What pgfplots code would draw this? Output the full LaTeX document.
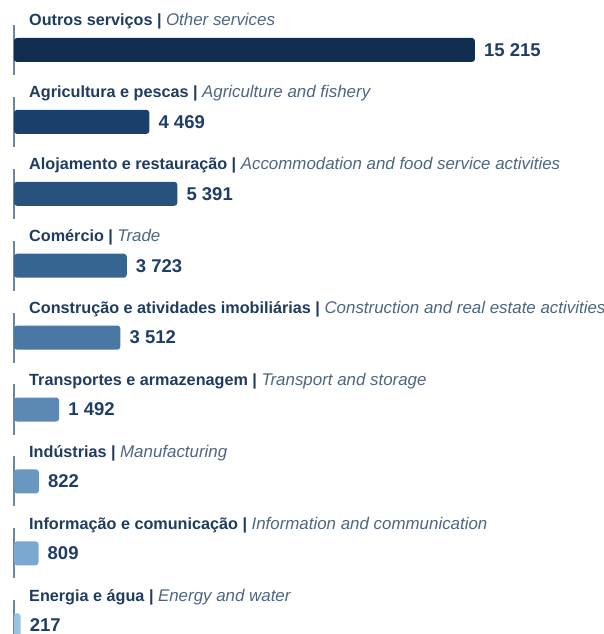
\documentclass[border=0pt]{standalone}
\usepackage{pgfplots}
\pgfplotsset{compat=1.18}
\usepackage{fontspec}
\setmainfont{Liberation Sans}
\definecolor{c0}{HTML}{112E51}
\definecolor{c1}{HTML}{1B3F6B}
\definecolor{c2}{HTML}{27527E}
\definecolor{c3}{HTML}{366592}
\definecolor{c4}{HTML}{4A78A4}
\definecolor{c5}{HTML}{5B89B4}
\definecolor{c6}{HTML}{6A97C0}
\definecolor{c7}{HTML}{7BA8D0}
\definecolor{c8}{HTML}{98C3E4}
\definecolor{labcol}{HTML}{1F3B5E}
\definecolor{itcol}{HTML}{4F6580}
\definecolor{valcol}{HTML}{1F3D66}
\definecolor{axcol}{HTML}{6F86A0}
\newcommand{\lab}[3]{\node[anchor=base west, inner sep=0pt, font=\fontsize{16.2}{19}\selectfont] at ([xshift=15pt,yshift=24pt]axis cs:0,#1) {\textcolor{labcol}{\textbf{#2} \textbf{|}} \textcolor{itcol}{{\fontsize{16.9}{19}\selectfont\textit{#3}}}};}
\pgfplotsset{mybar/.style={xbar, draw=none, fill=#1, bar width=24pt, bar shift=0pt, rounded corners=3pt,
  nodes near coords, point meta=explicit symbolic,
  every node near coord/.append style={anchor=west, inner sep=0pt, xshift=9pt, text=valcol, font=\fontsize{18.5}{21}\selectfont\bfseries}}}
\begin{document}
\begin{tikzpicture}
\useasboundingbox (0,0) rectangle (603pt,634pt);
\clip (0,0) rectangle (603pt,634pt);
\begin{axis}[at={(14pt,0pt)}, anchor=south west, scale only axis,
  width=575.6pt, height=634pt, xmin=0, xmax=19000, ymin=-0.695, ymax=8.122,
  y dir=reverse, axis lines=none, clip=false]
\pgfplotsinvokeforeach{0,...,8}{\draw[axcol, line width=1.3pt] (axis cs:0,#1-0.348) -- (axis cs:0,#1+0.348);}
\addplot[mybar=c0] coordinates {(15215,0) [15 215]};
\addplot[mybar=c1] coordinates {(4469,1) [4 469]};
\addplot[mybar=c2] coordinates {(5391,2) [5 391]};
\addplot[mybar=c3] coordinates {(3723,3) [3 723]};
\addplot[mybar=c4] coordinates {(3512,4) [3 512]};
\addplot[mybar=c5] coordinates {(1492,5) [1 492]};
\addplot[mybar=c6] coordinates {(822,6) [822]};
\addplot[mybar=c7] coordinates {(809,7) [809]};
\addplot[mybar=c8] coordinates {(217,8) [217]};
\lab{0}{Outros serviços}{Other services}
\lab{1}{Agricultura e pescas}{Agriculture and fishery}
\lab{2}{Alojamento e restauração}{Accommodation and food service activities}
\lab{3}{Comércio}{Trade}
\lab{4}{Construção e atividades imobiliárias}{Construction and real estate activities}
\lab{5}{Transportes e armazenagem}{Transport and storage}
\lab{6}{Indústrias}{Manufacturing}
\lab{7}{Informação e comunicação}{Information and communication}
\lab{8}{Energia e água}{Energy and water}
\end{axis}
\end{tikzpicture}
\end{document}
